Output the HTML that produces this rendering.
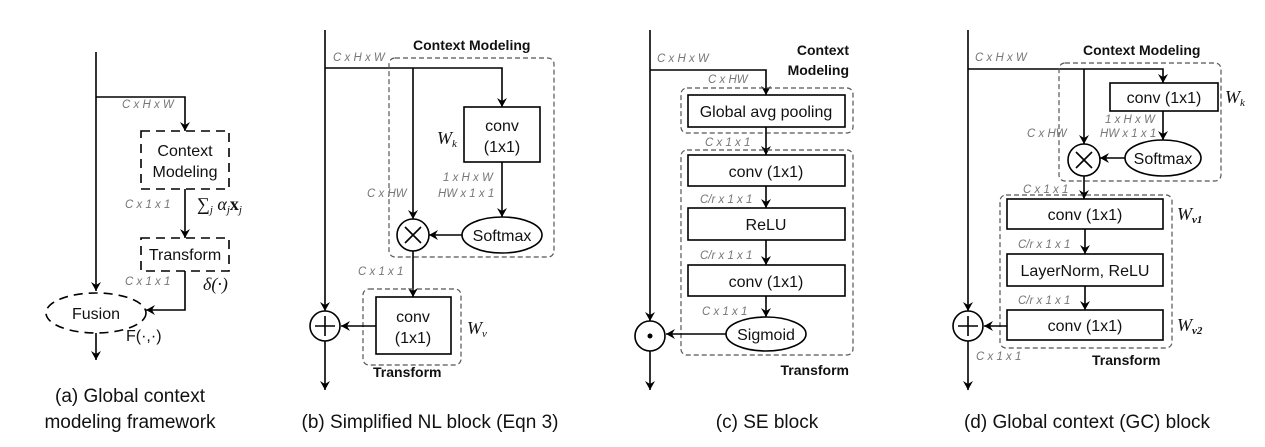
<!DOCTYPE html>
<html><head><meta charset="utf-8"><style>
html,body{margin:0;padding:0;background:#fff;}
svg{display:block;}
text{font-family:"Liberation Sans",sans-serif;fill:#111;}
.l{font-size:11.5px;font-style:italic;fill:#777;}
.b{font-size:14px;font-weight:bold;}
.t{font-size:16px;}
.c{font-size:19px;}
.m{font-family:"Liberation Serif",serif;font-style:italic;font-size:18px;}
</style></head><body>
<svg width="1265" height="447" viewBox="0 0 1265 447" xmlns="http://www.w3.org/2000/svg">
<defs><marker id="a" markerWidth="10" markerHeight="10" refX="9" refY="5" orient="auto" markerUnits="userSpaceOnUse"><path d="M0,0 L9,5 L0,10 L3,5 z" fill="#000"/></marker></defs>
<g stroke="#000" stroke-width="1.6" fill="none">
<!-- (a) -->
<path d="M96,52 V291" marker-end="url(#a)"/>
<path d="M96,97 H185 V131" marker-end="url(#a)"/>
<rect x="141" y="131" width="88" height="58" stroke-dasharray="9,6"/>
<path d="M185,189 V238" marker-end="url(#a)"/>
<rect x="141" y="238" width="88" height="33" stroke-dasharray="9,6"/>
<path d="M185,271 V310 H146" marker-end="url(#a)"/>
<ellipse cx="96" cy="313" rx="50" ry="20" stroke-dasharray="9,6"/>
<path d="M96,333 V360" marker-end="url(#a)"/>
<!-- (b) -->
<path d="M325,30 V311" marker-end="url(#a)"/>
<path d="M325,68 H502 V107" marker-end="url(#a)"/>
<path d="M413,68 V219" marker-end="url(#a)"/>
<rect x="464" y="107" width="76" height="55"/>
<path d="M502,162 V217" marker-end="url(#a)"/>
<ellipse cx="502" cy="235" rx="40" ry="18"/>
<path d="M462,235 H429" marker-end="url(#a)"/>
<circle cx="413" cy="235" r="16"/>
<path d="M405,227 L421,243 M421,227 L405,243"/>
<rect x="389" y="58" width="165" height="199" rx="6" stroke="#555" stroke-width="1.2" stroke-dasharray="5,3"/>
<path d="M413,251 V297" marker-end="url(#a)"/>
<rect x="363" y="289" width="98" height="76" rx="6" stroke="#555" stroke-width="1.2" stroke-dasharray="5,3"/>
<rect x="376" y="297" width="75" height="57"/>
<path d="M376,326 H341" marker-end="url(#a)"/>
<circle cx="325" cy="326" r="15"/>
<path d="M315,326 H335 M325,316 V336"/>
<path d="M325,341 V390" marker-end="url(#a)"/>
<!-- (c) -->
<path d="M650,30 V321" marker-end="url(#a)"/>
<path d="M650,70 H766 V95" marker-end="url(#a)"/>
<rect x="681" y="88" width="172" height="45" rx="6" stroke="#555" stroke-width="1.2" stroke-dasharray="5,3"/>
<rect x="688" y="95" width="157" height="32"/>
<path d="M766,127 V155" marker-end="url(#a)"/>
<rect x="681" y="150" width="172" height="205" rx="6" stroke="#555" stroke-width="1.2" stroke-dasharray="5,3"/>
<rect x="688" y="155" width="157" height="31"/>
<path d="M766,186 V208" marker-end="url(#a)"/>
<rect x="688" y="208" width="157" height="32"/>
<path d="M766,240 V265" marker-end="url(#a)"/>
<rect x="688" y="265" width="157" height="31"/>
<path d="M766,296 V317" marker-end="url(#a)"/>
<ellipse cx="766" cy="334" rx="40" ry="17"/>
<path d="M726,334 H666" marker-end="url(#a)"/>
<circle cx="650" cy="336" r="15"/>
<path d="M650,351 V390" marker-end="url(#a)"/>
<!-- (d) -->
<path d="M968,30 V311" marker-end="url(#a)"/>
<path d="M968,69 H1163 V83" marker-end="url(#a)"/>
<path d="M1084,69 V144" marker-end="url(#a)"/>
<rect x="1110" y="83" width="108" height="28"/>
<path d="M1163,111 V140" marker-end="url(#a)"/>
<ellipse cx="1163" cy="158" rx="38" ry="18"/>
<path d="M1125,158 H1100" marker-end="url(#a)"/>
<circle cx="1084" cy="160" r="16"/>
<path d="M1076,152 L1092,168 M1092,152 L1076,168"/>
<rect x="1059" y="63" width="162" height="118" rx="6" stroke="#555" stroke-width="1.2" stroke-dasharray="5,3"/>
<path d="M1084,176 V199" marker-end="url(#a)"/>
<rect x="1000" y="195" width="172" height="153" rx="6" stroke="#555" stroke-width="1.2" stroke-dasharray="5,3"/>
<rect x="1007" y="199" width="156" height="30"/>
<path d="M1085,229 V254" marker-end="url(#a)"/>
<rect x="1007" y="254" width="156" height="32"/>
<path d="M1085,286 V310" marker-end="url(#a)"/>
<rect x="1007" y="310" width="156" height="30"/>
<path d="M1007,326 H984" marker-end="url(#a)"/>
<circle cx="968" cy="326" r="15"/>
<path d="M958,326 H978 M968,316 V336"/>
<path d="M968,341 V390" marker-end="url(#a)"/>
</g>
<circle cx="650" cy="336" r="2.5" fill="#000"/>
<!-- (a) text -->
<text class="l" x="122" y="108">C x H x W</text>
<text class="t" x="185" y="156" text-anchor="middle">Context</text>
<text class="t" x="185" y="177" text-anchor="middle">Modeling</text>
<text class="l" x="125" y="208">C x 1 x 1</text>
<text class="m" x="197" y="210">∑<tspan font-size="11" dy="3">j</tspan><tspan dy="-3"> α</tspan><tspan font-size="11" dy="3">j</tspan><tspan dy="-3" font-weight="bold" font-style="normal">x</tspan><tspan font-size="11" dy="3">j</tspan></text>
<text class="t" x="185" y="260" text-anchor="middle">Transform</text>
<text class="l" x="125" y="285">C x 1 x 1</text>
<text class="m" x="203" y="290">δ(·)</text>
<text class="t" x="96" y="319" text-anchor="middle">Fusion</text>
<text class="t" x="126" y="341">F(·,·)</text>
<text class="c" x="130" y="402" text-anchor="middle">(a) Global context</text>
<text class="c" x="130" y="428" text-anchor="middle">modeling framework</text>
<!-- (b) text -->
<text class="b" x="413" y="50">Context Modeling</text>
<text class="l" x="333" y="61">C x H x W</text>
<text class="t" x="502" y="131" text-anchor="middle">conv</text>
<text class="t" x="502" y="152" text-anchor="middle">(1x1)</text>
<text class="m" x="437" y="144">W<tspan font-size="11" dy="3">k</tspan></text>
<text class="l" x="443" y="181">1 x H x W</text>
<text class="l" x="438" y="197">HW x 1 x 1</text>
<text class="l" x="367" y="197">C x HW</text>
<text class="t" x="502" y="241" text-anchor="middle">Softmax</text>
<text class="l" x="358" y="275">C x 1 x 1</text>
<text class="t" x="413" y="322" text-anchor="middle">conv</text>
<text class="t" x="413" y="343" text-anchor="middle">(1x1)</text>
<text class="m" x="467" y="334">W<tspan font-size="11" dy="3">v</tspan></text>
<text class="b" x="373" y="377">Transform</text>
<text class="c" x="430" y="428" text-anchor="middle">(b) Simplified NL block (Eqn 3)</text>
<!-- (c) text -->
<text class="l" x="657" y="62">C x H x W</text>
<text class="b" x="849" y="55" text-anchor="end">Context</text>
<text class="b" x="849" y="75" text-anchor="end">Modeling</text>
<text class="l" x="708" y="83">C x HW</text>
<text class="t" x="766" y="117" text-anchor="middle">Global avg pooling</text>
<text class="l" x="705" y="146">C x 1 x 1</text>
<text class="t" x="766" y="177" text-anchor="middle">conv (1x1)</text>
<text class="l" x="700" y="203">C/r x 1 x 1</text>
<text class="t" x="766" y="230" text-anchor="middle">ReLU</text>
<text class="l" x="700" y="259">C/r x 1 x 1</text>
<text class="t" x="766" y="287" text-anchor="middle">conv (1x1)</text>
<text class="l" x="702" y="315">C x 1 x 1</text>
<text class="t" x="766" y="340" text-anchor="middle">Sigmoid</text>
<text class="b" x="849" y="375" text-anchor="end">Transform</text>
<text class="c" x="767" y="428" text-anchor="middle">(c) SE block</text>
<!-- (d) text -->
<text class="l" x="975" y="61">C x H x W</text>
<text class="b" x="1083" y="55">Context Modeling</text>
<text class="t" x="1164" y="103" text-anchor="middle">conv (1x1)</text>
<text class="m" x="1225" y="103">W<tspan font-size="11" dy="3">k</tspan></text>
<text class="l" x="1105" y="123">1 x H x W</text>
<text class="l" x="1100" y="137">HW x 1 x 1</text>
<text class="l" x="1027" y="137">C x HW</text>
<text class="t" x="1163" y="164" text-anchor="middle">Softmax</text>
<text class="l" x="1023" y="193">C x 1 x 1</text>
<text class="t" x="1085" y="220" text-anchor="middle">conv (1x1)</text>
<text class="m" x="1177" y="220">W<tspan font-size="11" dy="3" font-weight="bold">v1</tspan></text>
<text class="l" x="1018" y="248">C/r x 1 x 1</text>
<text class="t" x="1085" y="276" text-anchor="middle">LayerNorm, ReLU</text>
<text class="l" x="1018" y="304">C/r x 1 x 1</text>
<text class="t" x="1085" y="331" text-anchor="middle">conv (1x1)</text>
<text class="m" x="1177" y="331">W<tspan font-size="11" dy="3" font-weight="bold">v2</tspan></text>
<text class="l" x="976" y="360">C x 1 x 1</text>
<text class="b" x="1092" y="365">Transform</text>
<text class="c" x="1087" y="428" text-anchor="middle">(d) Global context (GC) block</text>
</svg>
</body></html>
